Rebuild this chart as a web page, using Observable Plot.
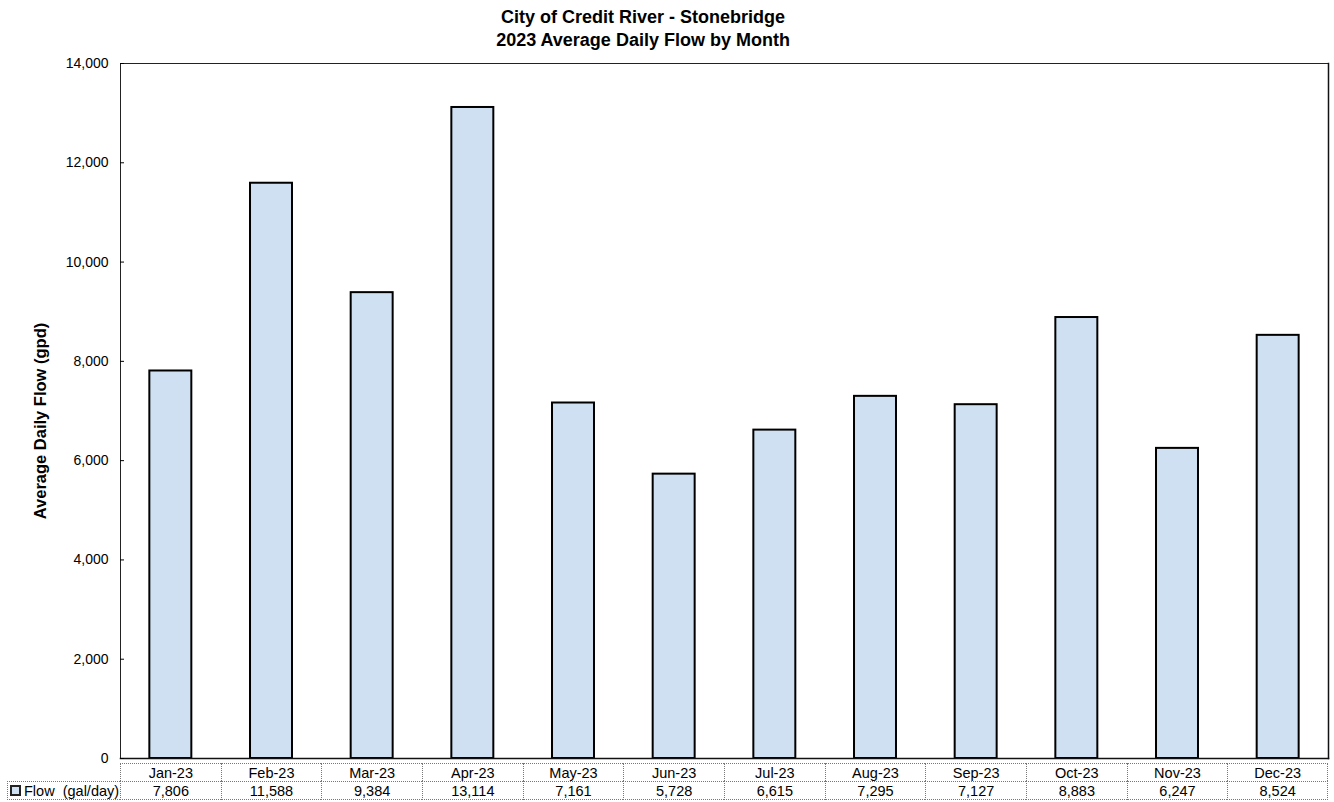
<!DOCTYPE html>
<html>
<head>
<meta charset="utf-8">
<script src="https://cdn.jsdelivr.net/npm/d3@7"></script>
<script src="https://cdn.jsdelivr.net/npm/@observablehq/plot@0.6"></script>
<style>
  html, body { margin: 0; padding: 0; background: #fff; }
  body { width: 1334px; height: 802px; position: relative; overflow: hidden; font-family: "Liberation Sans", Arial, sans-serif; }
  #title { position: absolute; left: 0; top: 6px; width: 1286px; text-align: center; font-weight: bold; font-size: 18px; line-height: 23px; color: #000; }
  #chart { position: absolute; left: 0; top: 56px; }
  #table { position: absolute; left: 0; top: 763px; }
  .cell { position: absolute; box-sizing: border-box; font-size: 14.5px; text-align: center; color: #000; white-space: pre; }
  .sw { display: inline-block; width: 7px; height: 7px; border: 2px solid #222; background: #cfe0f3; margin-right: 3px; vertical-align: 0px; }
</style>
</head>
<body>
<div id="title">City of Credit River - Stonebridge<br>2023 Average Daily Flow by Month</div>
<div id="chart"></div>
<div id="table"></div>
<script>
const titleLines = ["City of Credit River - Stonebridge", "2023 Average Daily Flow by Month"];
const months = ["Jan-23","Feb-23","Mar-23","Apr-23","May-23","Jun-23","Jul-23","Aug-23","Sep-23","Oct-23","Nov-23","Dec-23"];
const flow = [7806, 11588, 9384, 13114, 7161, 5728, 6615, 7295, 7127, 8883, 6247, 8524];
const yTicks = [0, 2000, 4000, 6000, 8000, 10000, 12000, 14000];
const yLabel = "Average Daily Flow (gpd)";
const seriesLabel = "Flow  (gal/day)";

const data = months.map((m, i) => ({month: m, flow: flow[i]}));
const fmt = d3.format(",");

const chart = Plot.plot({
  width: 1334,
  height: 716,
  marginTop: 7,
  marginLeft: 120,
  marginRight: 6,
  marginBottom: 14,
  style: {fontFamily: "Liberation Sans, Arial, sans-serif", fontSize: "14px", color: "#000", background: "transparent"},
  x: {domain: months, paddingInner: 0.583, paddingOuter: 0.2915, round: false, axis: null},
  y: {domain: [0, 14000], axis: null},
  marks: [
    Plot.barY(data, {x: "month", y: "flow", fill: "#cfe0f3", stroke: "#000", strokeWidth: 2}),
    Plot.frame({stroke: "#222", strokeWidth: 1}),
    Plot.frame({anchor: "right", stroke: "#111", strokeWidth: 1.5}),
    Plot.frame({anchor: "bottom", stroke: "#111", strokeWidth: 1.5}),
    Plot.axisY({ticks: yTicks, tickSize: -4, tickPadding: 16, tickFormat: fmt, label: null, fontSize: 14}),
    Plot.text([yLabel], {frameAnchor: "left", textAnchor: "middle", rotate: -90, dx: -80, dy: 10, fontWeight: "bold", fontSize: 16.5})
  ]
});
document.getElementById("chart").appendChild(chart);

// data table below the chart, aligned to the x band scale
const xs = chart.scale("x");
const step = xs.step;
const table = document.getElementById("table");
const border = "1px dotted #777";
function cell(left, top, w, h, html, extra) {
  const d = document.createElement("div");
  d.className = "cell";
  d.style.left = left + "px";
  d.style.top = top + "px";
  d.style.width = w + "px";
  d.style.height = h + "px";
  d.style.lineHeight = h + "px";
  d.style.borderLeft = border;
  d.style.borderTop = border;
  Object.assign(d.style, extra || {});
  d.innerHTML = html;
  table.appendChild(d);
  return d;
}
const rowH1 = 18, rowH2 = 19;
months.forEach((m, i) => {
  const left = xs.apply(m) - (step - xs.bandwidth) / 2;
  const last = i === months.length - 1;
  cell(left, 0, step, rowH1, m, last ? {borderRight: border} : {});
  cell(left, rowH1, step, rowH2, fmt(flow[i]), last ? {borderRight: border, borderBottom: border} : {borderBottom: border});
});
const left0 = xs.apply(months[0]) - (step - xs.bandwidth) / 2;
cell(7, rowH1, left0 - 7, rowH2, '<span class="sw"></span>' + seriesLabel, {textAlign: "left", paddingLeft: "2px", borderBottom: border});
</script>
</body>
</html>
